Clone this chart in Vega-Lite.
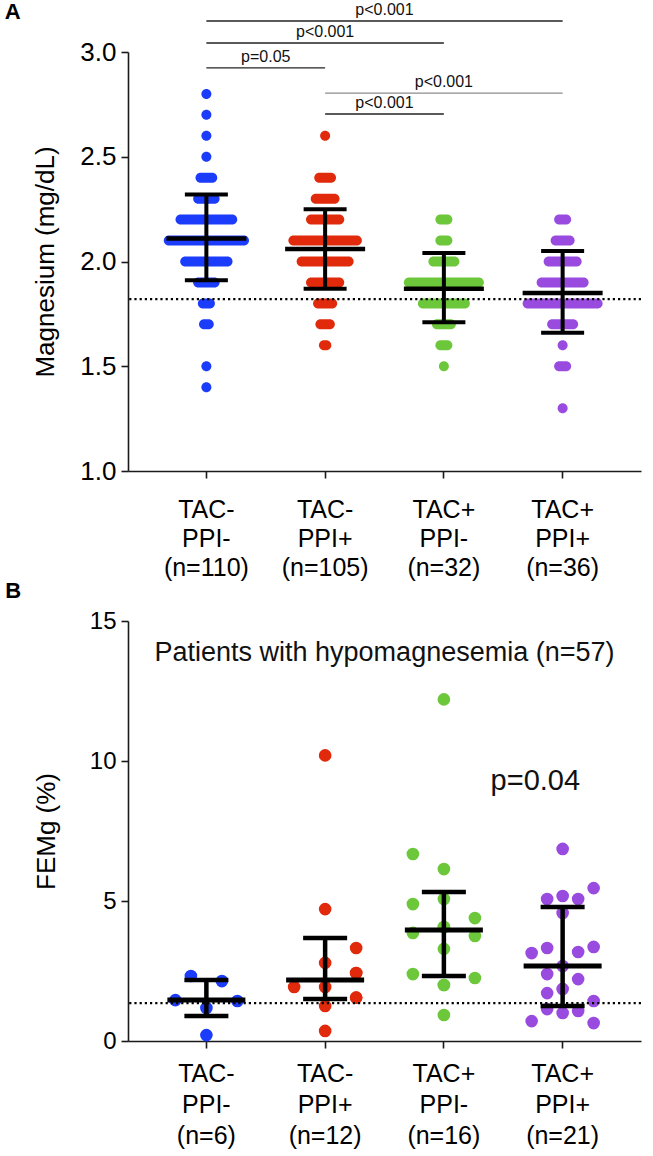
{
  "$schema": "https://vega.github.io/schema/vega-lite/v6.json",
  "background": "white",
  "padding": {"left": 4, "top": 0, "right": 13, "bottom": 4},
  "spacing": 0,
  "config": {
    "font": "Liberation Sans",
    "view": {"stroke": null},
    "tick": {"opacity": 1},
    "rule": {"opacity": 1},
    "circle": {"opacity": 1},
    "axis": {"domainColor": "#1a1a1a", "domainWidth": 1.6, "tickColor": "#1a1a1a", "tickWidth": 1.6, "tickSize": 7, "labelColor": "#000", "titleColor": "#000", "titleFontWeight": "normal", "grid": false, "labelFont": "Liberation Sans", "titleFont": "Liberation Sans"},
    "title": {"font": "Liberation Sans", "color": "#000"}
  },
  "datasets": {
    "mgA": [
      {"g": "TAC-/PPI-", "mg": 2.8, "n": 1}, {"g": "TAC-/PPI-", "mg": 2.7, "n": 1}, {"g": "TAC-/PPI-", "mg": 2.6, "n": 1}, {"g": "TAC-/PPI-", "mg": 2.5, "n": 1},
      {"g": "TAC-/PPI-", "mg": 2.4, "n": 6}, {"g": "TAC-/PPI-", "mg": 2.3, "n": 8}, {"g": "TAC-/PPI-", "mg": 2.2, "n": 23}, {"g": "TAC-/PPI-", "mg": 2.1, "n": 33},
      {"g": "TAC-/PPI-", "mg": 2.0, "n": 19}, {"g": "TAC-/PPI-", "mg": 1.9, "n": 8}, {"g": "TAC-/PPI-", "mg": 1.8, "n": 4}, {"g": "TAC-/PPI-", "mg": 1.7, "n": 3},
      {"g": "TAC-/PPI-", "mg": 1.5, "n": 1}, {"g": "TAC-/PPI-", "mg": 1.4, "n": 1},
      {"g": "TAC-/PPI+", "mg": 2.6, "n": 1}, {"g": "TAC-/PPI+", "mg": 2.4, "n": 6}, {"g": "TAC-/PPI+", "mg": 2.3, "n": 9}, {"g": "TAC-/PPI+", "mg": 2.2, "n": 13},
      {"g": "TAC-/PPI+", "mg": 2.1, "n": 28}, {"g": "TAC-/PPI+", "mg": 2.0, "n": 21}, {"g": "TAC-/PPI+", "mg": 1.9, "n": 13}, {"g": "TAC-/PPI+", "mg": 1.8, "n": 7},
      {"g": "TAC-/PPI+", "mg": 1.7, "n": 5}, {"g": "TAC-/PPI+", "mg": 1.6, "n": 2},
      {"g": "TAC+/PPI-", "mg": 2.2, "n": 2}, {"g": "TAC+/PPI-", "mg": 2.1, "n": 2}, {"g": "TAC+/PPI-", "mg": 2.0, "n": 4}, {"g": "TAC+/PPI-", "mg": 1.9, "n": 11},
      {"g": "TAC+/PPI-", "mg": 1.8, "n": 7}, {"g": "TAC+/PPI-", "mg": 1.7, "n": 3}, {"g": "TAC+/PPI-", "mg": 1.6, "n": 2}, {"g": "TAC+/PPI-", "mg": 1.5, "n": 1},
      {"g": "TAC+/PPI+", "mg": 2.2, "n": 2}, {"g": "TAC+/PPI+", "mg": 2.1, "n": 3}, {"g": "TAC+/PPI+", "mg": 2.0, "n": 5}, {"g": "TAC+/PPI+", "mg": 1.9, "n": 7},
      {"g": "TAC+/PPI+", "mg": 1.8, "n": 11}, {"g": "TAC+/PPI+", "mg": 1.7, "n": 4}, {"g": "TAC+/PPI+", "mg": 1.6, "n": 1}, {"g": "TAC+/PPI+", "mg": 1.5, "n": 2},
      {"g": "TAC+/PPI+", "mg": 1.3, "n": 1}
    ],
    "sumA": [
      {"g": "TAC-/PPI-", "mean": 2.11, "lo": 1.91, "hi": 2.32},
      {"g": "TAC-/PPI+", "mean": 2.06, "lo": 1.87, "hi": 2.25},
      {"g": "TAC+/PPI-", "mean": 1.87, "lo": 1.71, "hi": 2.04},
      {"g": "TAC+/PPI+", "mean": 1.85, "lo": 1.66, "hi": 2.05}
    ],
    "pA": [
      {"g1": "TAC-/PPI-", "g2": "TAC+/PPI+", "yb": 3.148, "label": "p<0.001"},
      {"g1": "TAC-/PPI-", "g2": "TAC+/PPI-", "yb": 3.043, "label": "p<0.001"},
      {"g1": "TAC-/PPI-", "g2": "TAC-/PPI+", "yb": 2.924, "label": "p=0.05"},
      {"g1": "TAC-/PPI+", "g2": "TAC+/PPI+", "yb": 2.804, "label": "p<0.001"},
      {"g1": "TAC-/PPI+", "g2": "TAC+/PPI-", "yb": 2.704, "label": "p<0.001"}
    ],
    "feB": [
      {"g": "TAC-/PPI-", "fe": 2.32, "col": -1}, {"g": "TAC-/PPI-", "fe": 2.14, "col": 1}, {"g": "TAC-/PPI-", "fe": 1.46, "col": -2},
      {"g": "TAC-/PPI-", "fe": 1.43, "col": 2}, {"g": "TAC-/PPI-", "fe": 1.18, "col": 0}, {"g": "TAC-/PPI-", "fe": 0.21, "col": 0},
      {"g": "TAC-/PPI+", "fe": 10.2, "col": 0}, {"g": "TAC-/PPI+", "fe": 4.71, "col": 0}, {"g": "TAC-/PPI+", "fe": 3.32, "col": 2},
      {"g": "TAC-/PPI+", "fe": 2.79, "col": 0}, {"g": "TAC-/PPI+", "fe": 2.43, "col": 2}, {"g": "TAC-/PPI+", "fe": 2.43, "col": 2},
      {"g": "TAC-/PPI+", "fe": 1.93, "col": -2}, {"g": "TAC-/PPI+", "fe": 1.93, "col": 0}, {"g": "TAC-/PPI+", "fe": 1.55, "col": 2},
      {"g": "TAC-/PPI+", "fe": 1.55, "col": 2}, {"g": "TAC-/PPI+", "fe": 1.25, "col": 0}, {"g": "TAC-/PPI+", "fe": 0.36, "col": 0},
      {"g": "TAC+/PPI-", "fe": 12.2, "col": 0}, {"g": "TAC+/PPI-", "fe": 6.68, "col": -2}, {"g": "TAC+/PPI-", "fe": 6.14, "col": 0},
      {"g": "TAC+/PPI-", "fe": 5.07, "col": 0}, {"g": "TAC+/PPI-", "fe": 4.89, "col": -2}, {"g": "TAC+/PPI-", "fe": 4.39, "col": 2},
      {"g": "TAC+/PPI-", "fe": 4.07, "col": 0}, {"g": "TAC+/PPI-", "fe": 4.07, "col": 0}, {"g": "TAC+/PPI-", "fe": 3.86, "col": -2},
      {"g": "TAC+/PPI-", "fe": 3.75, "col": 2}, {"g": "TAC+/PPI-", "fe": 3.29, "col": 0}, {"g": "TAC+/PPI-", "fe": 2.39, "col": -2},
      {"g": "TAC+/PPI-", "fe": 2.25, "col": 2}, {"g": "TAC+/PPI-", "fe": 2.0, "col": 0}, {"g": "TAC+/PPI-", "fe": 2.0, "col": 0},
      {"g": "TAC+/PPI-", "fe": 0.93, "col": 0},
      {"g": "TAC+/PPI+", "fe": 6.86, "col": 0}, {"g": "TAC+/PPI+", "fe": 5.46, "col": 2}, {"g": "TAC+/PPI+", "fe": 5.18, "col": 0},
      {"g": "TAC+/PPI+", "fe": 5.07, "col": -1}, {"g": "TAC+/PPI+", "fe": 5.07, "col": 1}, {"g": "TAC+/PPI+", "fe": 4.57, "col": 0},
      {"g": "TAC+/PPI+", "fe": 3.36, "col": 2}, {"g": "TAC+/PPI+", "fe": 3.32, "col": -1}, {"g": "TAC+/PPI+", "fe": 3.18, "col": 1},
      {"g": "TAC+/PPI+", "fe": 3.14, "col": -2}, {"g": "TAC+/PPI+", "fe": 2.68, "col": 0}, {"g": "TAC+/PPI+", "fe": 2.39, "col": -1},
      {"g": "TAC+/PPI+", "fe": 2.21, "col": 1}, {"g": "TAC+/PPI+", "fe": 1.86, "col": 0}, {"g": "TAC+/PPI+", "fe": 1.71, "col": -1},
      {"g": "TAC+/PPI+", "fe": 1.43, "col": 2}, {"g": "TAC+/PPI+", "fe": 1.14, "col": -1}, {"g": "TAC+/PPI+", "fe": 1.07, "col": 1},
      {"g": "TAC+/PPI+", "fe": 1.0, "col": 0}, {"g": "TAC+/PPI+", "fe": 0.71, "col": -2}, {"g": "TAC+/PPI+", "fe": 0.64, "col": 2}
    ],
    "sumB": [
      {"g": "TAC-/PPI-", "med": 1.46, "lo": 0.89, "hi": 2.18},
      {"g": "TAC-/PPI+", "med": 2.18, "lo": 1.5, "hi": 3.68},
      {"g": "TAC+/PPI-", "med": 3.96, "lo": 2.32, "hi": 5.32},
      {"g": "TAC+/PPI+", "med": 2.68, "lo": 1.25, "hi": 4.79}
    ]
  },
  "vconcat": [
    {
      "width": 513,
      "height": 419,
      "title": {"text": "A", "anchor": "start", "frame": "bounds", "fontSize": 22, "fontWeight": "bold", "dx": -28, "offset": -22},
      "resolve": {"scale": {"size": "independent"}},
      "layer": [
        {
          "data": {"name": "mgA"},
          "transform": [{"filter": "datum.g == 'TAC-/PPI-' || datum.g == 'TAC-/PPI+'"}],
          "mark": {"type": "tick", "thickness": 10, "cornerRadius": 5, "opacity": 1},
          "encoding": {
            "x": {"field": "g", "type": "nominal", "sort": null,
              "scale": {"type": "band", "domain": ["TAC-/PPI-", "TAC-/PPI+", "TAC+/PPI-", "TAC+/PPI+"], "paddingInner": 0, "paddingOuter": 0.16},
              "axis": {"title": null, "labelAngle": 0, "labelFontSize": 25, "labelLineHeight": 29, "labelPadding": 19, "labelBaseline": "top",
                "labelExpr": "datum.value == 'TAC-/PPI-' ? ['TAC-','PPI-','(n=110)'] : datum.value == 'TAC-/PPI+' ? ['TAC-','PPI+','(n=105)'] : datum.value == 'TAC+/PPI-' ? ['TAC+','PPI-','(n=32)'] : ['TAC+','PPI+','(n=36)']"}},
            "y": {"field": "mg", "type": "quantitative",
              "scale": {"domain": [1, 3], "nice": false, "zero": false},
              "axis": {"title": "Magnesium (mg/dL)", "titleFontSize": 26, "titlePadding": 21, "values": [1, 1.5, 2, 2.5, 3], "format": ".1f", "labelFontSize": 26, "labelPadding": 5}},
            "size": {"field": "n", "type": "quantitative", "scale": {"domain": [1, 33], "range": [10, 85.2]}, "legend": null},
            "color": {"field": "g", "type": "nominal", "scale": {"domain": ["TAC-/PPI-", "TAC-/PPI+", "TAC+/PPI-", "TAC+/PPI+"], "range": ["#1c3cfb", "#e02a0b", "#6cc83a", "#9a4bdf"]}, "legend": null}
          }
        },
        {
          "data": {"name": "mgA"},
          "transform": [{"filter": "datum.g == 'TAC+/PPI-' || datum.g == 'TAC+/PPI+'"}],
          "mark": {"type": "tick", "thickness": 10, "cornerRadius": 5, "opacity": 1},
          "encoding": {
            "x": {"field": "g", "type": "nominal"},
            "y": {"field": "mg", "type": "quantitative"},
            "size": {"field": "n", "type": "quantitative", "scale": {"domain": [1, 11], "range": [10, 80]}, "legend": null},
            "color": {"field": "g", "type": "nominal", "legend": null}
          }
        },
        {
          "data": {"values": [{"ref": 1.82}]},
          "mark": {"type": "rule", "strokeDash": [2.2, 3], "strokeWidth": 2.2, "color": "#000", "opacity": 1},
          "encoding": {"y": {"field": "ref", "type": "quantitative"}}
        },
        {
          "data": {"name": "sumA"},
          "mark": {"type": "rule", "strokeWidth": 4, "color": "#000", "opacity": 1},
          "encoding": {"x": {"field": "g", "type": "nominal"}, "y": {"field": "lo", "type": "quantitative"}, "y2": {"field": "hi"}}
        },
        {
          "data": {"name": "sumA"},
          "mark": {"type": "tick", "size": 43, "thickness": 4, "color": "#000", "opacity": 1},
          "encoding": {"x": {"field": "g", "type": "nominal"}, "y": {"field": "lo", "type": "quantitative"}}
        },
        {
          "data": {"name": "sumA"},
          "mark": {"type": "tick", "size": 43, "thickness": 4, "color": "#000", "opacity": 1},
          "encoding": {"x": {"field": "g", "type": "nominal"}, "y": {"field": "hi", "type": "quantitative"}}
        },
        {
          "data": {"name": "sumA"},
          "mark": {"type": "tick", "size": 80, "thickness": 4.5, "color": "#000", "opacity": 1},
          "encoding": {"x": {"field": "g", "type": "nominal"}, "y": {"field": "mean", "type": "quantitative"}}
        },
        {
          "data": {"name": "pA"},
          "transform": [{"filter": "!(datum.g1 == 'TAC-/PPI+' && datum.g2 == 'TAC+/PPI+')"}],
          "mark": {"type": "rule", "strokeWidth": 1.3, "color": "#222", "opacity": 1},
          "encoding": {"x": {"field": "g1", "type": "nominal", "bandPosition": 0.5}, "x2": {"field": "g2", "bandPosition": 0.5}, "y": {"field": "yb", "type": "quantitative"}}
        },
        {
          "data": {"name": "pA"},
          "transform": [{"filter": "datum.g1 == 'TAC-/PPI+' && datum.g2 == 'TAC+/PPI+'"}],
          "mark": {"type": "rule", "strokeWidth": 1.3, "color": "#8c8c8c", "opacity": 1},
          "encoding": {"x": {"field": "g1", "type": "nominal", "bandPosition": 0.5}, "x2": {"field": "g2", "bandPosition": 0.5}, "y": {"field": "yb", "type": "quantitative"}}
        },
        {
          "data": {"name": "pA"},
          "transform": [{"filter": "indexof(['TAC-/PPI-','TAC-/PPI+','TAC+/PPI-','TAC+/PPI+'], datum.g2) - indexof(['TAC-/PPI-','TAC-/PPI+','TAC+/PPI-','TAC+/PPI+'], datum.g1) == 1"}],
          "mark": {"type": "text", "fontSize": 16, "baseline": "alphabetic", "align": "center", "dy": -6, "color": "#111"},
          "encoding": {"x": {"field": "g1", "type": "nominal", "bandPosition": 1}, "y": {"field": "yb", "type": "quantitative"}, "text": {"field": "label"}}
        },
        {
          "data": {"name": "pA"},
          "transform": [{"filter": "indexof(['TAC-/PPI-','TAC-/PPI+','TAC+/PPI-','TAC+/PPI+'], datum.g2) - indexof(['TAC-/PPI-','TAC-/PPI+','TAC+/PPI-','TAC+/PPI+'], datum.g1) == 2"}],
          "mark": {"type": "text", "fontSize": 16, "baseline": "alphabetic", "align": "center", "dy": -6, "color": "#111"},
          "encoding": {"x": {"field": "g1", "type": "nominal", "bandPosition": 1.5}, "y": {"field": "yb", "type": "quantitative"}, "text": {"field": "label"}}
        },
        {
          "data": {"name": "pA"},
          "transform": [{"filter": "indexof(['TAC-/PPI-','TAC-/PPI+','TAC+/PPI-','TAC+/PPI+'], datum.g2) - indexof(['TAC-/PPI-','TAC-/PPI+','TAC+/PPI-','TAC+/PPI+'], datum.g1) == 3"}],
          "mark": {"type": "text", "fontSize": 16, "baseline": "alphabetic", "align": "center", "dy": -6, "color": "#111"},
          "encoding": {"x": {"field": "g1", "type": "nominal", "bandPosition": 2}, "y": {"field": "yb", "type": "quantitative"}, "text": {"field": "label"}}
        }
      ]
    },
    {
      "width": 513,
      "height": 420,
      "title": {"text": "B", "anchor": "start", "frame": "bounds", "fontSize": 22, "fontWeight": "bold", "dx": -28, "offset": 6},
      "layer": [
        {
          "data": {"name": "feB"},
          "mark": {"type": "circle", "size": 160, "opacity": 1},
          "encoding": {
            "x": {"field": "g", "type": "nominal", "sort": null,
              "scale": {"type": "band", "domain": ["TAC-/PPI-", "TAC-/PPI+", "TAC+/PPI-", "TAC+/PPI+"], "paddingInner": 0, "paddingOuter": 0.16},
              "axis": {"title": null, "labelAngle": 0, "labelFontSize": 25, "labelLineHeight": 31, "labelPadding": 13, "labelBaseline": "top",
                "labelExpr": "datum.value == 'TAC-/PPI-' ? ['TAC-','PPI-','(n=6)'] : datum.value == 'TAC-/PPI+' ? ['TAC-','PPI+','(n=12)'] : datum.value == 'TAC+/PPI-' ? ['TAC+','PPI-','(n=16)'] : ['TAC+','PPI+','(n=21)']"}},
            "xOffset": {"field": "col", "type": "quantitative", "scale": {"domain": [-2, 2], "range": [28.4, 90.4]}},
            "y": {"field": "fe", "type": "quantitative",
              "scale": {"domain": [0, 15], "nice": false},
              "axis": {"title": "FEMg (%)", "titleFontSize": 26, "titlePadding": 30, "values": [0, 5, 10, 15], "labelFontSize": 24, "labelPadding": 5}},
            "color": {"field": "g", "type": "nominal", "scale": {"domain": ["TAC-/PPI-", "TAC-/PPI+", "TAC+/PPI-", "TAC+/PPI+"], "range": ["#1c3cfb", "#e02a0b", "#6cc83a", "#9a4bdf"]}, "legend": null}
          }
        },
        {
          "data": {"values": [{"ref": 1.35}]},
          "mark": {"type": "rule", "strokeDash": [2.2, 3], "strokeWidth": 2.2, "color": "#000", "opacity": 1},
          "encoding": {"y": {"field": "ref", "type": "quantitative"}}
        },
        {
          "data": {"name": "sumB"},
          "mark": {"type": "rule", "strokeWidth": 4.5, "color": "#000", "opacity": 1},
          "encoding": {"x": {"field": "g", "type": "nominal"}, "y": {"field": "lo", "type": "quantitative"}, "y2": {"field": "hi"}}
        },
        {
          "data": {"name": "sumB"},
          "mark": {"type": "tick", "size": 44, "thickness": 4.5, "color": "#000", "opacity": 1},
          "encoding": {"x": {"field": "g", "type": "nominal"}, "y": {"field": "lo", "type": "quantitative"}}
        },
        {
          "data": {"name": "sumB"},
          "mark": {"type": "tick", "size": 44, "thickness": 4.5, "color": "#000", "opacity": 1},
          "encoding": {"x": {"field": "g", "type": "nominal"}, "y": {"field": "hi", "type": "quantitative"}}
        },
        {
          "data": {"name": "sumB"},
          "mark": {"type": "tick", "size": 78, "thickness": 5, "color": "#000", "opacity": 1},
          "encoding": {"x": {"field": "g", "type": "nominal"}, "y": {"field": "med", "type": "quantitative"}}
        },
        {
          "data": {"values": [{"g": "TAC-/PPI+", "y": 13.57, "label": "Patients with hypomagnesemia (n=57)"}]},
          "mark": {"type": "text", "fontSize": 27, "baseline": "alphabetic", "align": "center", "color": "#111"},
          "encoding": {"x": {"field": "g", "type": "nominal", "bandPosition": 1}, "y": {"field": "y", "type": "quantitative"}, "text": {"field": "label"}}
        },
        {
          "data": {"values": [{"g": "TAC+/PPI+", "y": 8.96, "label": "p=0.04"}]},
          "mark": {"type": "text", "fontSize": 29, "baseline": "alphabetic", "align": "center", "color": "#111"},
          "encoding": {"x": {"field": "g", "type": "nominal", "bandPosition": 0.27}, "y": {"field": "y", "type": "quantitative"}, "text": {"field": "label"}}
        }
      ]
    }
  ]
}
